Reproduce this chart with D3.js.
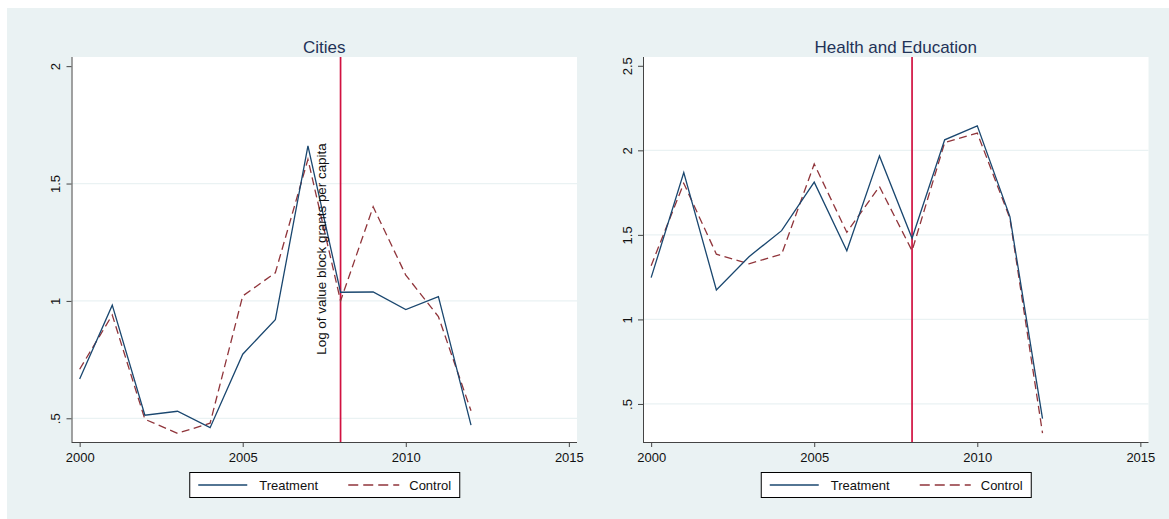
<!DOCTYPE html>
<html>
<head>
<meta charset="utf-8">
<script src="https://cdn.jsdelivr.net/npm/d3@7"></script>
<style>
  html, body { margin: 0; padding: 0; background: #ffffff; }
  svg { display: block; }
  text { font-family: "Liberation Sans", Arial, Helvetica, sans-serif; }
</style>
</head>
<body>
<svg id="chart" width="1169" height="519"></svg>
<script>
// ---- data ----
const years = [2000, 2001, 2002, 2003, 2004, 2005, 2006, 2007, 2008, 2009, 2010, 2011, 2012];

const citiesTreatment = [0.667, 0.982, 0.513, 0.530, 0.460, 0.773, 0.920, 1.660, 1.037, 1.038, 0.963, 1.018, 0.471];
const citiesControl   = [0.709, 0.940, 0.496, 0.436, 0.479, 1.021, 1.120, 1.603, 1.000, 1.401, 1.110, 0.933, 0.532];

const healthTreatment = [1.247, 1.869, 1.174, 1.371, 1.525, 1.812, 1.406, 1.967, 1.480, 2.062, 2.145, 1.608, 0.413];
const healthControl   = [1.318, 1.805, 1.386, 1.329, 1.385, 1.919, 1.515, 1.786, 1.406, 2.046, 2.102, 1.598, 0.328];

const xTicks = [2000, 2005, 2010, 2015];
const citiesYTicks = [0.5, 1, 1.5, 2];
const healthYTicks = [0.5, 1, 1.5, 2, 2.5];
const treatYear = 2008;

const panelTitles = ["Cities", "Health and Education"];
const seriesNames = ["Treatment", "Control"];
const yAxisTitle = "Log of value block grants per capita";

// ---- styles ----
const BG = "#eaf2f3";
const NAVY = "#1a476f";
const MAROON = "#90353b";
const RED = "#d11141";
const TITLE_COLOR = "#1f3358";

const svg = d3.select("#chart");

// outer graph region
svg.append("rect")
  .attr("x", 7).attr("y", 8)
  .attr("width", 1169 - 7).attr("height", 519 - 8)
  .attr("fill", BG);

const fmtTick = v => {
  const s = String(v);
  return s.startsWith("0.") ? s.slice(1) : s;
};

function drawPanel(opts) {
  const { left, right, top, bottom, yDomain, yTicks, treat, ctrl, title } = opts;

  const x = d3.scaleLinear().domain([1999.75, 2015.25]).range([left, right]);
  const y = d3.scaleLinear().domain(yDomain).range([bottom, top]);

  const g = svg.append("g");

  // plot region
  g.append("rect")
    .attr("x", left).attr("y", top)
    .attr("width", right - left).attr("height", bottom - top)
    .attr("fill", "#ffffff");

  // horizontal gridlines (not at the topmost tick)
  g.selectAll("line.grid")
    .data(yTicks.slice(0, -1))
    .join("line")
    .attr("class", "grid")
    .attr("x1", left).attr("x2", right)
    .attr("y1", d => y(d)).attr("y2", d => y(d))
    .attr("stroke", BG)
    .attr("stroke-width", 1.2);

  // y axis
  const yAxis = g.append("g")
    .attr("transform", `translate(${left},0)`)
    .call(d3.axisLeft(y).tickValues(yTicks).tickSize(5).tickPadding(0).tickFormat(fmtTick));
  yAxis.select(".domain").attr("stroke", "#444").attr("d", `M0.5,${top}V${bottom}`);
  yAxis.selectAll(".tick line").attr("stroke", "#444");
  yAxis.selectAll(".tick text")
    .attr("x", 0).attr("dy", 0)
    .attr("transform", "translate(-11.5,0) rotate(-90)")
    .attr("text-anchor", "middle")
    .attr("font-size", 13)
    .attr("fill", "#111")
    .attr("font-family", "Liberation Sans, Arial, sans-serif");

  // x axis
  const xAxis = g.append("g")
    .attr("transform", `translate(0,${bottom})`)
    .call(d3.axisBottom(x).tickValues(xTicks).tickSize(5).tickPadding(6).tickFormat(d3.format("d")));
  xAxis.select(".domain").attr("stroke", "#444").attr("d", `M${left},0.5H${right}`);
  xAxis.selectAll(".tick line").attr("stroke", "#444");
  xAxis.selectAll(".tick text")
    .attr("font-size", 13)
    .attr("fill", "#111")
    .attr("font-family", "Liberation Sans, Arial, sans-serif");

  const line = d3.line().x((d, i) => x(years[i])).y(d => y(d));

  // treatment year marker
  g.append("line")
    .attr("x1", x(treatYear)).attr("x2", x(treatYear))
    .attr("y1", top).attr("y2", bottom)
    .attr("stroke", RED).attr("stroke-width", 1.7);

  g.append("path")
    .datum(ctrl)
    .attr("d", line)
    .attr("fill", "none")
    .attr("stroke", MAROON)
    .attr("stroke-width", 1.3)
    .attr("stroke-dasharray", "8,4.5");

  g.append("path")
    .datum(treat)
    .attr("d", line)
    .attr("fill", "none")
    .attr("stroke", NAVY)
    .attr("stroke-width", 1.3);

  // panel title
  g.append("text")
    .attr("x", (left + right) / 2).attr("y", 52.5)
    .attr("text-anchor", "middle")
    .attr("font-size", 17)
    .attr("fill", TITLE_COLOR)
    .text(title);

  // legend
  const cx = (left + right) / 2;
  const lw = 270, lh = 25, ly = 472;
  const lx = cx - lw / 2;
  const lg = g.append("g");
  lg.append("rect")
    .attr("x", lx + 0.5).attr("y", ly + 0.5)
    .attr("width", lw).attr("height", lh)
    .attr("fill", "#ffffff").attr("stroke", "#000").attr("stroke-width", 1);
  const my = ly + lh / 2 + 0.5;
  lg.append("line")
    .attr("x1", lx + 9).attr("x2", lx + 58).attr("y1", my).attr("y2", my)
    .attr("stroke", NAVY).attr("stroke-width", 1.3);
  lg.append("text")
    .attr("x", lx + 70).attr("y", my + 4.6)
    .attr("font-size", 13).attr("fill", "#111")
    .text(seriesNames[0]);
  lg.append("line")
    .attr("x1", lx + 159).attr("x2", lx + 210).attr("y1", my).attr("y2", my)
    .attr("stroke", MAROON).attr("stroke-width", 1.3)
    .attr("stroke-dasharray", "10,5");
  lg.append("text")
    .attr("x", lx + 220).attr("y", my + 4.6)
    .attr("font-size", 13).attr("fill", "#111")
    .text(seriesNames[1]);

  return { x, y };
}

drawPanel({
  left: 71.5, right: 577, top: 57, bottom: 442,
  yDomain: [0.399, 2.039], yTicks: citiesYTicks,
  treat: citiesTreatment, ctrl: citiesControl, title: panelTitles[0]
});

drawPanel({
  left: 643, right: 1148.5, top: 57, bottom: 442,
  yDomain: [0.275, 2.552], yTicks: healthYTicks,
  treat: healthTreatment, ctrl: healthControl, title: panelTitles[1]
});

// shared y-axis title
svg.append("text")
  .attr("transform", "translate(326,249) rotate(-90)")
  .attr("text-anchor", "middle")
  .attr("font-size", 13.4)
  .attr("fill", "#111")
  .text(yAxisTitle);
</script>
</body>
</html>
